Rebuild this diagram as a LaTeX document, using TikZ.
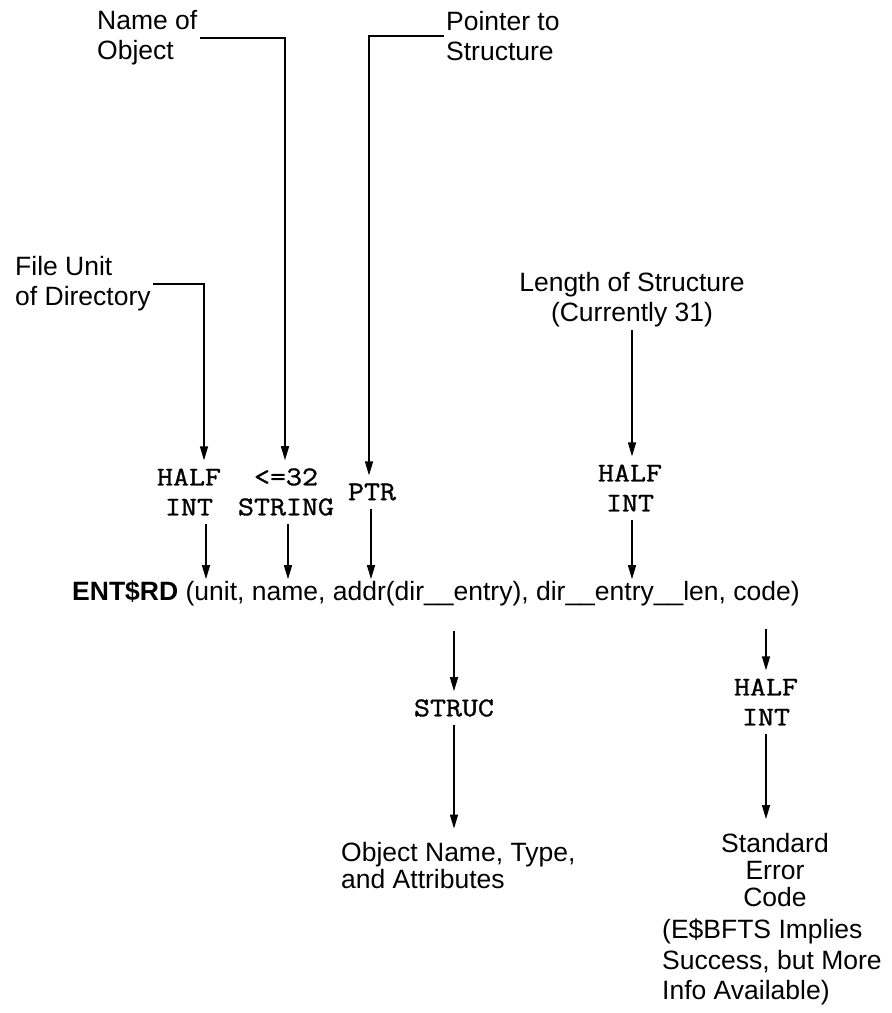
\documentclass[tikz,border=0pt]{standalone}
\usepackage{fontspec}
\setmainfont{Liberation Sans}
\newfontfamily\monofam[FakeStretch=1.15,FakeBold=1.2]{Latin Modern Mono}
\usetikzlibrary{arrows.meta}
\begin{document}
\begin{tikzpicture}[x=1pt,y=-1pt,
  lbl/.style={font=\fontsize{26.5}{30}\selectfont, inner sep=2pt, align=left},
  typ/.style={font=\monofam\fontsize{27}{30}\selectfont, inner xsep=3pt, inner ysep=8pt, align=center},
  arr/.style={line width=1.4pt, -{Triangle[length=14pt,width=8pt]}}]
\useasboundingbox (0,0) rectangle (892,1013);
% top labels
\node[lbl, anchor=west] (nameobj) at (95,38) {Name of\\Object};
\node[lbl, anchor=west] (ptrlbl) at (444,36) {Pointer to\\Structure};
\node[lbl, anchor=west] (filelbl) at (13,284) {File Unit\\of Directory};
\node[lbl, align=center] (lenlbl) at (632,300) {Length of Structure\\(Currently 31)};
% type nodes
\node[typ] (half1) at (189,492) {HALF\\INT};
\node[typ] (str) at (286,492) {<=32\\STRING};
\node[typ] (ptr) at (372,492) {PTR};
\node[typ] (half2) at (630,488) {HALF\\INT};
% call line
\node[anchor=base west, inner sep=1pt, font=\fontsize{26.5}{30}\selectfont] (ent) at (71,600)
  {\textbf{ENT\$RD} (unit, name, addr(dir\_\_entry), dir\_\_entry\_\_len, code)};
% lower nodes
\node[typ] (struc) at (454,708) {STRUC};
\node[typ] (half3) at (766,702) {HALF\\INT};
\node[lbl, anchor=west, font=\fontsize{26.5}{27}\selectfont] (objlbl) at (339,866) {Object Name, Type,\\and Attributes};
\node[lbl, align=center, font=\fontsize{26.5}{27}\selectfont] (stdlbl) at (775,870) {Standard\\Error\\Code};
\node[lbl, anchor=west, font=\fontsize{26.5}{30.5}\selectfont] (infolbl) at (660,962) {(E\$BFTS Implies\\Success, but More\\Info Available)};
% connectors from labels to types
\draw[arr] (nameobj.east) -| ([xshift=-1pt]str.north);
\draw[arr] (ptrlbl.west) -| ([xshift=-3pt]ptr.north);
\draw[arr] (filelbl.east) -| ([xshift=15pt]half1.north);
\draw[arr] (lenlbl.south) -- (lenlbl.south |- half2.north);
% types to call line
\draw[arr] ([xshift=17pt]half1.south) -- ([xshift=17pt]half1.south |- ent.north);
\draw[arr] ([xshift=2pt]str.south) -- ([xshift=2pt]str.south |- ent.north);
\draw[arr] ([xshift=-1pt]ptr.south) -- ([xshift=-1pt]ptr.south |- ent.north);
\draw[arr] ([xshift=2pt]half2.south) -- ([xshift=2pt]half2.south |- ent.north);
% call line to lower types
\draw[arr, shorten <=24pt] (struc.north |- ent.south) -- (struc.north);
\draw[arr, shorten <=22pt] (half3.north |- ent.south) -- (half3.north);
% lower types to descriptions
\draw[arr, shorten >=12pt] (struc.south) -- (struc.south |- objlbl.north);
\draw[arr, shorten >=12pt] (half3.south) -- (half3.south |- stdlbl.north);
\end{tikzpicture}
\end{document}
